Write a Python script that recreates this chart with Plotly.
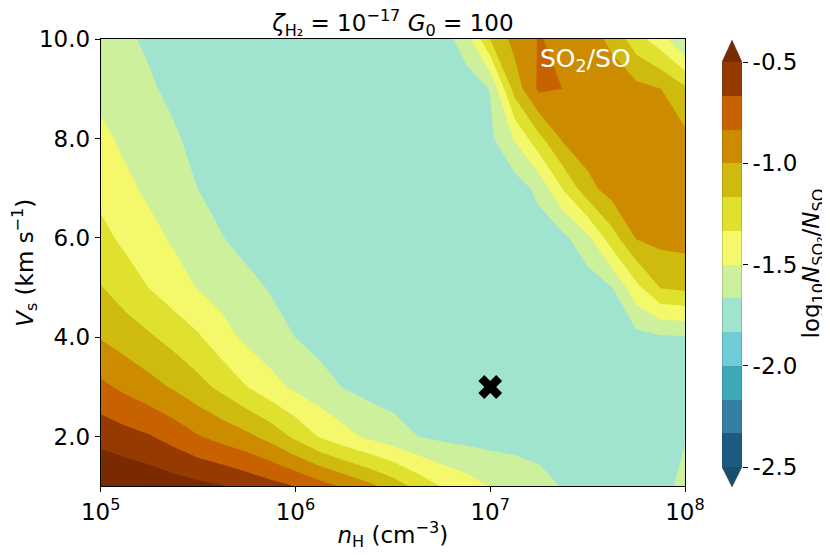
import numpy as np
import plotly.graph_objects as go

# ---------------------------------------------------------------------------
# Data: log10(N_SO2/N_SO) on a (V_s, n_H) grid
# ---------------------------------------------------------------------------
log_nh = [5.0, 5.125, 5.25, 5.375, 5.5, 5.625, 5.75, 5.875, 6.0, 6.125, 6.25, 6.375,
          6.5, 6.625, 6.75, 6.875, 7.0, 7.125, 7.25, 7.375, 7.5, 7.625, 7.75, 7.875, 8.0]
vs_kms = [1, 2, 3, 4, 5, 6, 7, 8, 9, 10]

# one row per shock velocity (1 ... 10 km/s), one column per log10 n_H
log_ratio = [
    [-0.31, -0.35, -0.38, -0.42, -0.455, -0.49, -0.546, -0.606, -0.668, -0.762, -0.856, -0.951,
     -1.072, -1.214, -1.339, -1.42, -1.501, -1.558, -1.616, -1.675, -1.70, -1.71, -1.72, -1.72, -1.62],
    [-0.56, -0.607, -0.653, -0.731, -0.821, -0.892, -0.960, -1.059, -1.203, -1.345, -1.444, -1.530,
     -1.597, -1.664, -1.70, -1.72, -1.73, -1.73, -1.73, -1.72, -1.72, -1.71, -1.70, -1.69, -1.675],
    [-0.795, -0.871, -0.943, -1.018, -1.109, -1.210, -1.330, -1.442, -1.534, -1.604, -1.674, -1.72,
     -1.74, -1.75, -1.75, -1.75, -1.75, -1.75, -1.75, -1.75, -1.75, -1.75, -1.75, -1.75, -1.71],
    [-1.01, -1.078, -1.145, -1.226, -1.313, -1.439, -1.537, -1.602, -1.668, -1.72, -1.75, -1.76,
     -1.76, -1.76, -1.76, -1.76, -1.76, -1.76, -1.76, -1.76, -1.76, -1.76, -1.72, -1.69, -1.68],
    [-1.158, -1.248, -1.337, -1.425, -1.508, -1.565, -1.622, -1.68, -1.72, -1.75, -1.75, -1.75,
     -1.75, -1.75, -1.75, -1.75, -1.75, -1.75, -1.75, -1.75, -1.76, -1.668, -1.381, -1.16, -1.13],
    [-1.285, -1.369, -1.448, -1.523, -1.593, -1.662, -1.72, -1.75, -1.75, -1.75, -1.75, -1.75,
     -1.75, -1.75, -1.75, -1.75, -1.75, -1.75, -1.75, -1.71, -1.54, -1.239, -0.99, -0.95, -0.94],
    [-1.383, -1.462, -1.534, -1.601, -1.668, -1.72, -1.75, -1.75, -1.75, -1.75, -1.75, -1.75,
     -1.75, -1.75, -1.75, -1.75, -1.75, -1.75, -1.62, -1.32, -1.056, -0.92, -0.90, -0.90, -0.92],
    [-1.462, -1.533, -1.591, -1.648, -1.71, -1.75, -1.75, -1.75, -1.75, -1.75, -1.75, -1.75,
     -1.75, -1.75, -1.75, -1.75, -1.70, -1.486, -1.215, -0.97, -0.90, -0.88, -0.90, -0.92, -0.96],
    [-1.545, -1.597, -1.648, -1.70, -1.74, -1.75, -1.75, -1.75, -1.75, -1.75, -1.75, -1.75,
     -1.75, -1.75, -1.75, -1.75, -1.66, -1.10, -0.80, -0.835, -0.87, -0.90, -0.95, -0.998, -1.135],
    [-1.60, -1.644, -1.69, -1.72, -1.75, -1.75, -1.75, -1.75, -1.75, -1.75, -1.75, -1.75,
     -1.75, -1.75, -1.75, -1.58, -1.165, -0.94, -0.825, -0.87, -0.92, -1.042, -1.264, -1.43, -1.68],
]

# adopted model (the black cross)
marker_nh = [1e7]
marker_vs = [3.0]

# contour levels / colour bar
lev_start, lev_end, n_bands = -2.5, -0.5, 12
cbar_ticks = [-2.5, -2.0, -1.5, -1.0, -0.5]
cbar_ticktext = ["-2.5", "-2.0", "-1.5", "-1.0", "-0.5"]
x_ticks = [1e5, 1e6, 1e7, 1e8]
x_ticktext = ["10<sup>5</sup>", "10<sup>6</sup>", "10<sup>7</sup>", "10<sup>8</sup>"]
y_ticks = [2, 4, 6, 8, 10]

# under colour, 12 band colours, over colour
band_colors = [
    "#184e6e",
    "#1d5a80", "#347fa4", "#3fa8b8", "#6ecdd6", "#a0e4d0", "#cdf09c",
    "#f4f86b", "#e0e02f", "#cfba0e", "#cd8b00", "#c86200", "#953a00",
    "#7a2a00",
]

# ---------------------------------------------------------------------------
# Layout geometry, in pixels of the 830 x 556 window.  The page body has an
# 8 px margin, so the figure itself is drawn 8 px smaller and offset.
# ---------------------------------------------------------------------------
WIN_W, WIN_H, OFF = 830, 556, 8
W, H = WIN_W - OFF, WIN_H - OFF
PLOT = dict(left=100.7, top=39.1, right=685.0, bottom=486.4)
CBAR = dict(left=722.0, right=742.0, top=40.0, bottom=487.0, inner_top=62.0, inner_bottom=467.0)
FONT = "DejaVu Sans"
FS = 23


def xdom(box):
    return [(box["left"] - OFF) / W, (box["right"] - OFF) / W]


def ydom(box):
    return [(H - (box["bottom"] - OFF)) / H, (H - (box["top"] - OFF)) / H]


step = (lev_end - lev_start) / n_bands
colorscale = [[k / (len(band_colors) - 1), c] for k, c in enumerate(band_colors)]

fig = go.Figure()

fig.add_trace(go.Contour(
    x=[10 ** v for v in log_nh],
    y=vs_kms,
    z=log_ratio,
    autocontour=False,
    contours=dict(start=lev_start, end=lev_end, size=step, coloring="fill", showlines=False),
    line=dict(width=0, smoothing=0),
    colorscale=colorscale,
    showscale=False,
    hoverinfo="skip",
    xaxis="x", yaxis="y",
))

fig.add_trace(go.Scatter(
    x=marker_nh, y=marker_vs, mode="markers",
    marker=dict(symbol="x", size=21, color="black", line=dict(width=0)),
    showlegend=False, hoverinfo="skip",
    xaxis="x", yaxis="y",
))

# --- hand-made colour bar with extension triangles ---
edges = np.linspace(lev_start, lev_end, n_bands + 1)
mids = edges[:-1] + step / 2
fig.add_trace(go.Heatmap(
    x=[0, 1], y=edges, z=[[m] for m in mids],
    colorscale=colorscale, zmin=lev_start - step / 2, zmax=lev_end + step / 2,
    showscale=False, hoverinfo="skip",
    xaxis="x2", yaxis="y2",
))

px_per_unit = (CBAR["inner_bottom"] - CBAR["inner_top"]) / (lev_end - lev_start)
ext_lo = (CBAR["bottom"] - CBAR["inner_bottom"]) / px_per_unit
ext_hi = (CBAR["inner_top"] - CBAR["top"]) / px_per_unit
cb_lo, cb_hi = lev_start - ext_lo, lev_end + ext_hi

shapes = [
    dict(type="path", xref="x2", yref="y2", layer="above",
         path=f"M0,{lev_start} L1,{lev_start} L0.5,{cb_lo} Z",
         fillcolor=band_colors[0], line=dict(width=0)),
    dict(type="path", xref="x2", yref="y2", layer="above",
         path=f"M0,{lev_end} L1,{lev_end} L0.5,{cb_hi} Z",
         fillcolor=band_colors[-1], line=dict(width=0)),
    dict(type="path", xref="x2", yref="y2", layer="above",
         path=(f"M0,{lev_start} L0,{lev_end} L0.5,{cb_hi} L1,{lev_end} "
               f"L1,{lev_start} L0.5,{cb_lo} Z"),
         line=dict(width=0.6, color="rgba(60,60,60,0.7)")),
]

axis_common = dict(
    showgrid=False, zeroline=False, ticks="outside", ticklen=5, tickwidth=1,
    tickcolor="black", tickfont=dict(family=FONT, size=FS, color="black"),
    automargin=False,
)

fig.update_layout(
    width=W, height=H,
    margin=dict(l=0, r=0, t=0, b=0, autoexpand=False),
    paper_bgcolor="white", plot_bgcolor="white",
    font=dict(family=FONT, size=FS, color="black"),
    showlegend=False,
    title=dict(
        text="<i>ζ</i><sub>H₂</sub> = 10<sup>−17</sup> <i>G</i><sub>0</sub> = 100",
        x=((PLOT["left"] + PLOT["right"]) / 2 - OFF) / W, xanchor="center",
        y=1 - (23 - OFF) / H, yanchor="middle", automargin=False,
        font=dict(family=FONT, size=FS, color="black"),
    ),
    xaxis=dict(
        axis_common, type="log", range=[5, 8], domain=xdom(PLOT), anchor="y",
        tickvals=x_ticks, ticktext=x_ticktext,
        showline=True, linecolor="black", linewidth=1, mirror=True,
        title=dict(text="<i>n</i><sub>H</sub> (cm<sup>−3</sup>)", standoff=2,
                   font=dict(family=FONT, size=FS)),
    ),
    yaxis=dict(
        axis_common, range=[1, 10], domain=ydom(PLOT), anchor="x",
        tickvals=y_ticks, tickformat=".1f",
        showline=True, linecolor="black", linewidth=1, mirror=True,
        title=dict(text="<i>V</i><sub>s</sub> (km s<sup>−1</sup>)", standoff=4,
                   font=dict(family=FONT, size=FS)),
    ),
    xaxis2=dict(domain=xdom(CBAR), range=[0, 1], visible=False, anchor="y2",
                fixedrange=True, automargin=False),
    yaxis2=dict(
        axis_common, domain=ydom(CBAR), range=[cb_lo, cb_hi], anchor="x2", side="right",
        tickvals=cbar_ticks, ticktext=cbar_ticktext, showline=False, fixedrange=True,
        title=dict(text="log<sub>10</sub><i>N</i><sub>SO₂</sub>/<i>N</i><sub>SO</sub>",
                   standoff=6, font=dict(family=FONT, size=FS)),
    ),
    shapes=shapes,
    annotations=[dict(
        text="SO<sub>2</sub>/SO", x=7.49, y=9.58, xref="x", yref="y",
        showarrow=False, font=dict(family=FONT, size=25, color="white"),
    )],
)

fig.write_html("out.html")
